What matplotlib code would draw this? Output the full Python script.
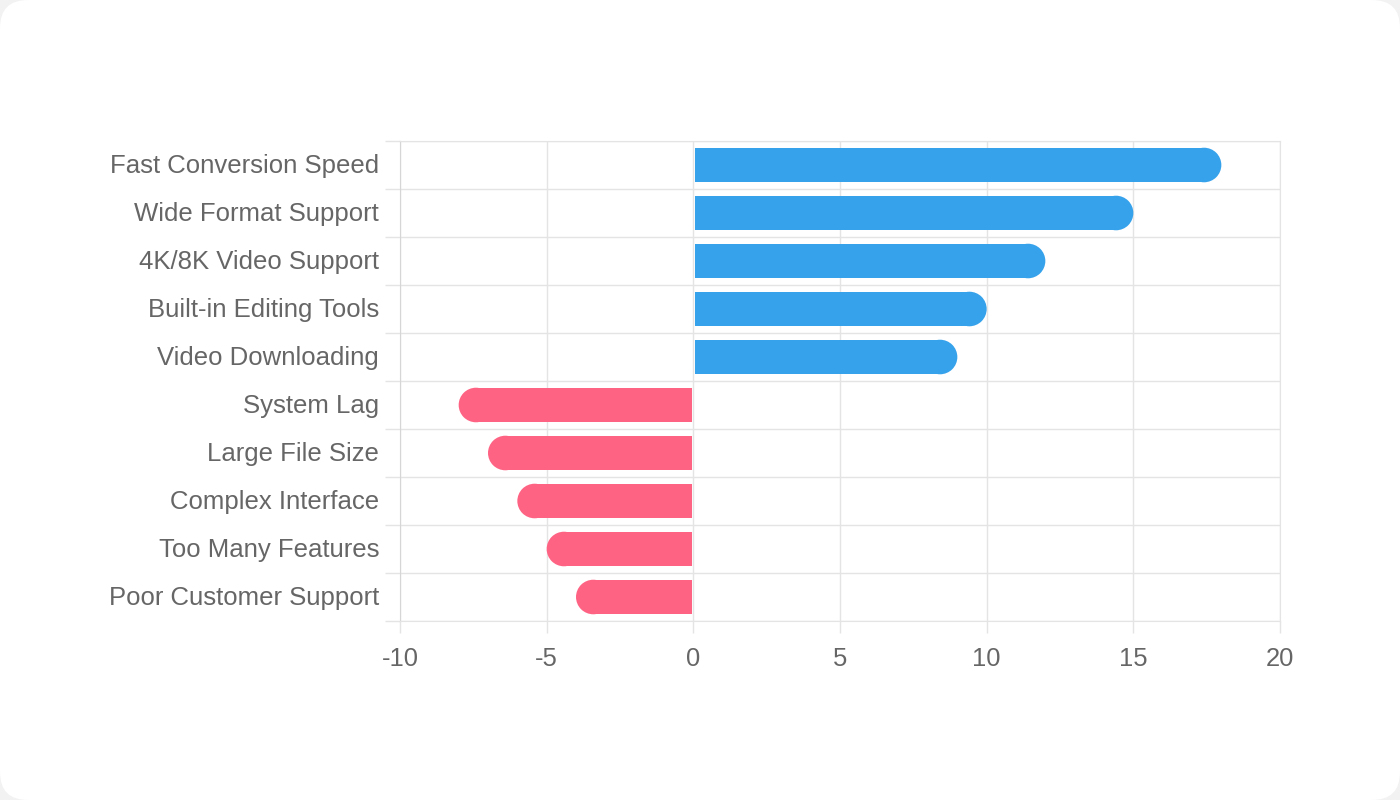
import matplotlib
matplotlib.use("Agg")
import matplotlib.pyplot as plt
import matplotlib.transforms as mtransforms
from matplotlib.patches import Ellipse, FancyBboxPatch

features = ["Fast Conversion Speed", "Wide Format Support", "4K/8K Video Support",
            "Built-in Editing Tools", "Video Downloading", "System Lag",
            "Large File Size", "Complex Interface", "Too Many Features",
            "Poor Customer Support"]
scores = [18, 15, 12, 10, 9, -8, -7, -6, -5, -4]
x_ticks = [-10, -5, 0, 5, 10, 15, 20]

blue = "#36A2EB"
pink = "#FF6384"
grid_c = "#e4e4e4"
text_c = "#666666"

plt.rcParams["font.family"] = ["Liberation Sans", "DejaVu Sans"]

fig = plt.figure(figsize=(14, 8), dpi=100)
fig.patch.set_facecolor("#f2f2f2")
card = FancyBboxPatch((0.0, 0.0), 1.0, 1.0, boxstyle="round,pad=0,rounding_size=0.02",
                      transform=fig.transFigure, facecolor="white", edgecolor="none",
                      mutation_aspect=14 / 8, zorder=-10)
fig.patches.append(card)

ax = fig.add_axes([400 / 1400, 1 - 621 / 800, 880 / 1400, 480 / 800])
ax.set_facecolor("none")
ax.set_xlim(-10, 20)
n = len(features)
ax.set_ylim(n - 0.5, -0.5)

bar_h = 0.72
# radius in x data units so that the end looks like a half circle
px_x = ax.get_position().width * 1400 / 30
px_y = ax.get_position().height * 800 / n
rx = (bar_h / 2) * px_y / px_x

for i, v in enumerate(scores):
    c = blue if v > 0 else pink
    s = 1 if v > 0 else -1
    start = 0.05 * s
    ax.barh(i, v - s * rx - start, left=start, height=bar_h, color=c, linewidth=0, zorder=3)
    ax.add_patch(Ellipse((v - s * rx, i), 2 * rx, bar_h, facecolor=c, edgecolor="none", zorder=3))

ax.set_xticks(x_ticks)
ax.set_xticklabels([str(t) for t in x_ticks])
ax.set_yticks(range(n))
ax.set_yticklabels(features)
ax.set_yticks([i - 0.5 for i in range(n + 1)], minor=True)

ax.grid(True, axis="x", which="major", color=grid_c, linewidth=1, zorder=0)
ax.grid(True, axis="y", which="minor", color=grid_c, linewidth=1, zorder=0)
ax.tick_params(axis="y", which="major", length=0, pad=15, labelsize=18.5, labelcolor=text_c)
ax.tick_params(axis="y", which="minor", length=11, color=grid_c, width=1)
ax.tick_params(axis="x", which="major", length=8.5, color=grid_c, width=1, pad=10,
               labelsize=18.4, labelcolor=text_c)
for side in ["top", "right", "bottom"]:
    ax.spines[side].set_color(grid_c)
ax.spines["left"].set_color("#d6d6d6")

# nudge category labels up a little
shift = mtransforms.ScaledTranslation(0, 2 / 100, fig.dpi_scale_trans)
for lbl in ax.get_yticklabels():
    lbl.set_transform(lbl.get_transform() + shift)

fig.savefig("out.png", dpi=100, facecolor=fig.get_facecolor())
